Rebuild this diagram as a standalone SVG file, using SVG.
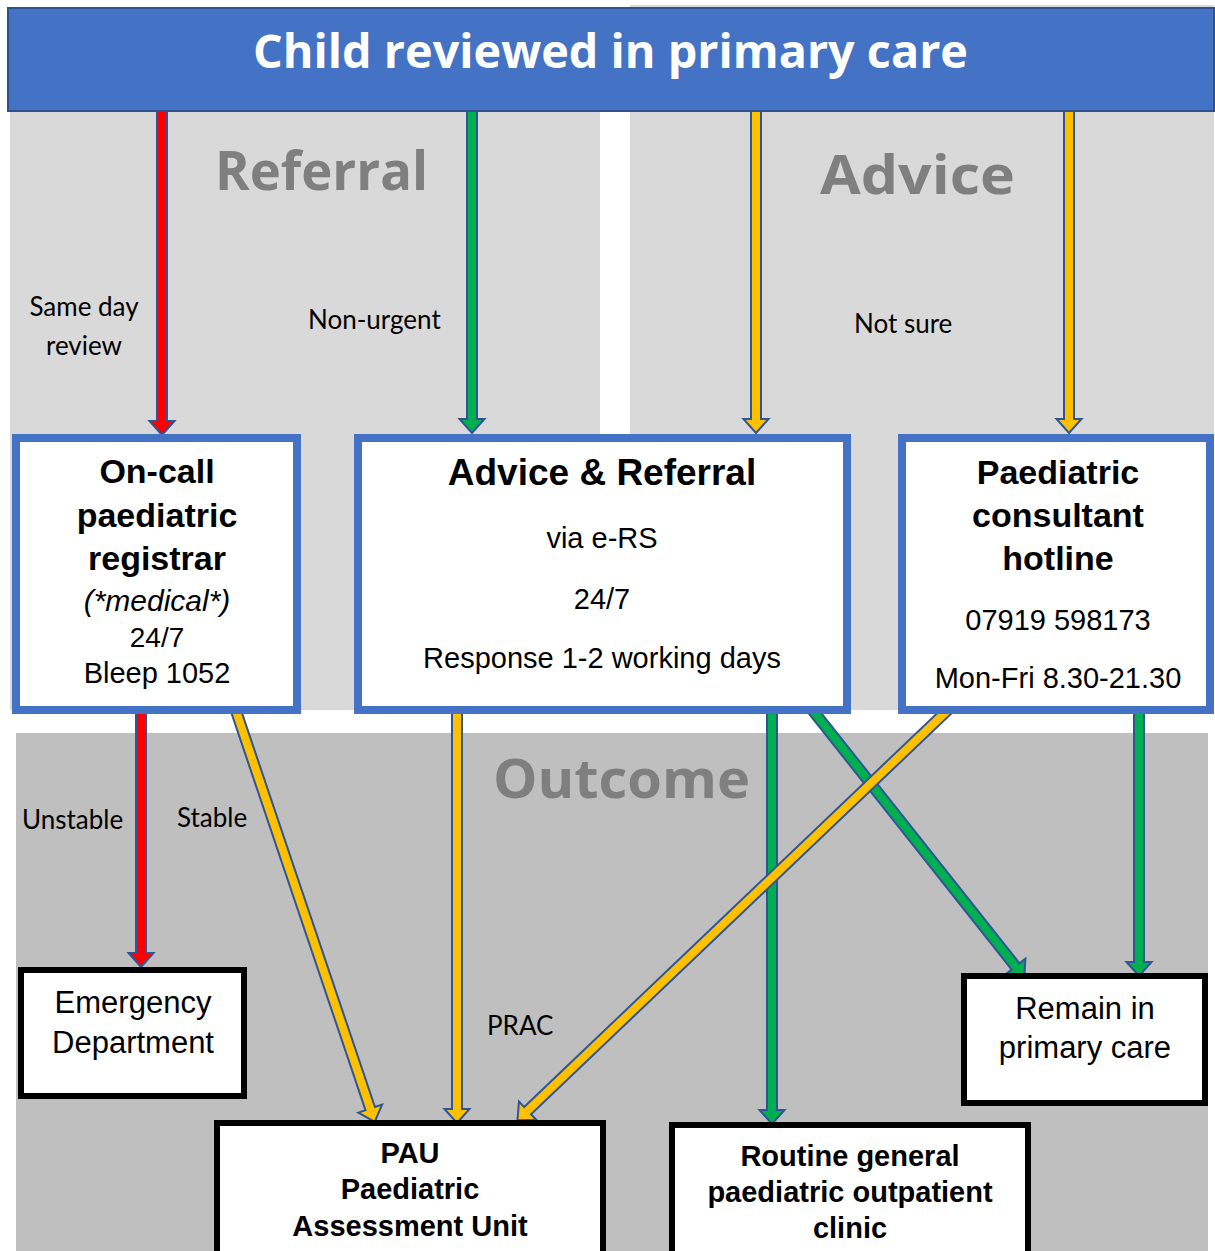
<svg xmlns="http://www.w3.org/2000/svg" width="1215" height="1251" viewBox="0 0 1215 1251">
<style>
.panel{stroke:none}
.bluebox{fill:#fff;stroke:#4472C4;stroke-width:8}
.blackbox{fill:#fff;stroke:#000;stroke-width:6}
.arr{stroke:#2F5597;stroke-width:2;stroke-linejoin:miter}
.red{fill:#FF0000}.grn{fill:#00B050}.yel{fill:#FFC000}
.t{font-family:"Liberation Sans",Arial,sans-serif;fill:#000;text-anchor:middle}
.b{font-weight:bold}
.lbl{font-family:Lato,"Open Sans",sans-serif;font-size:26px;fill:#000}
.wm{font-family:"Open Sans","DejaVu Sans",sans-serif;font-weight:bold;fill:#7F7F7F;font-size:54px}
</style>
<rect width="1215" height="1251" fill="#fff"/>
<g id="panels">
<rect class="panel" x="10" y="100" width="590" height="610" fill="#D9D9D9"/>
<rect class="panel" x="630" y="5" width="584" height="705" fill="#D9D9D9"/>
<rect class="panel" x="16" y="733" width="1192" height="518" fill="#BFBFBF"/>
<text class="wm" x="215" y="190" textLength="213" lengthAdjust="spacingAndGlyphs">Referral</text>
<text class="wm" x="820" y="194" textLength="195" lengthAdjust="spacingAndGlyphs">Advice</text>
<text class="wm" x="493" y="798" textLength="257" lengthAdjust="spacingAndGlyphs">Outcome</text>
</g>
<g id="connectors">
<path class="arr red" transform="translate(162,108) rotate(90)" d="M0,-5 L313,-5 L313,-12.5 L327,0 L313,12.5 L313,5 L0,5 Z"/>
<path class="arr grn" transform="translate(472,108) rotate(90)" d="M0,-5 L311,-5 L311,-12.5 L325,0 L311,12.5 L311,5 L0,5 Z"/>
<path class="arr yel" transform="translate(756,108) rotate(90)" d="M0,-5 L311,-5 L311,-12.5 L325,0 L311,12.5 L311,5 L0,5 Z"/>
<path class="arr yel" transform="translate(1069,108) rotate(90)" d="M0,-5 L311,-5 L311,-12.5 L325,0 L311,12.5 L311,5 L0,5 Z"/>
<path class="arr red" transform="translate(141,705) rotate(90)" d="M0,-5 L248,-5 L248,-12.5 L262,0 L248,12.5 L248,5 L0,5 Z"/>
<path class="arr yel" transform="translate(234,705) rotate(71.35)" d="M0,-5 L426,-5 L426,-12.5 L440,0 L426,12.5 L426,5 L0,5 Z"/>
<path class="arr yel" transform="translate(457,705) rotate(90)" d="M0,-5 L404,-5 L404,-12.5 L418,0 L404,12.5 L404,5 L0,5 Z"/>
<path class="arr grn" transform="translate(772,705) rotate(90)" d="M0,-5 L405,-5 L405,-12.5 L419,0 L405,12.5 L405,5 L0,5 Z"/>
<path class="arr grn" transform="translate(810,707) rotate(51.6)" d="M0,-5 L331,-5 L331,-12.5 L345,0 L331,12.5 L331,5 L0,5 Z"/>
<path class="arr yel" transform="translate(951,707) rotate(136.37)" d="M0,-5 L585,-5 L585,-12.5 L599,0 L585,12.5 L585,5 L0,5 Z"/>
<path class="arr grn" transform="translate(1139,705) rotate(90)" d="M0,-5 L257,-5 L257,-12.5 L271,0 L257,12.5 L257,5 L0,5 Z"/>
</g>
<g id="banner">
<rect x="8" y="8" width="1206" height="103" fill="#4472C4" stroke="#2F528F" stroke-width="2"/>
<text x="253" y="68" font-family="'Open Sans','DejaVu Sans',sans-serif" font-weight="bold" font-size="46" fill="#fff" textLength="715" lengthAdjust="spacingAndGlyphs">Child reviewed in primary care</text>
</g>
<g id="oncall">
<rect class="bluebox" x="16" y="438" width="281" height="272"/>
<text class="t b" font-size="34" x="157" y="483">On-call</text>
<text class="t b" font-size="34" x="157" y="527">paediatric</text>
<text class="t b" font-size="34" x="157" y="570">registrar</text>
<text class="t" font-size="30" font-style="italic" x="157" y="611">(*medical*)</text>
<text class="t" font-size="28" x="157" y="647">24/7</text>
<text class="t" font-size="29" x="157" y="683">Bleep 1052</text>
</g>
<g id="advice-referral">
<rect class="bluebox" x="358" y="438" width="489" height="272"/>
<text class="t b" font-size="37" x="602" y="485">Advice &amp; Referral</text>
<text class="t" font-size="29" x="602" y="548">via e-RS</text>
<text class="t" font-size="29" x="602" y="609">24/7</text>
<text class="t" font-size="29" x="602" y="668">Response 1-2 working days</text>
</g>
<g id="hotline">
<rect class="bluebox" x="902" y="438" width="308" height="272"/>
<text class="t b" font-size="34" x="1058" y="484">Paediatric</text>
<text class="t b" font-size="34" x="1058" y="527">consultant</text>
<text class="t b" font-size="34" x="1058" y="570">hotline</text>
<text class="t" font-size="29" x="1058" y="630">07919 598173</text>
<text class="t" font-size="29" x="1058" y="688">Mon-Fri 8.30-21.30</text>
</g>
<g id="ed">
<rect class="blackbox" x="21" y="970" width="223" height="126"/>
<text class="t" font-size="31" x="133" y="1013">Emergency</text>
<text class="t" font-size="31" x="133" y="1053">Department</text>
</g>
<g id="remain">
<rect class="blackbox" x="964" y="976" width="241" height="127"/>
<text class="t" font-size="31" x="1085" y="1019">Remain in</text>
<text class="t" font-size="31" x="1085" y="1058">primary care</text>
</g>
<g id="pau">
<rect class="blackbox" x="217" y="1123" width="386" height="135"/>
<text class="t b" font-size="29" x="410" y="1163">PAU</text>
<text class="t b" font-size="29" x="410" y="1199">Paediatric</text>
<text class="t b" font-size="29" x="410" y="1236">Assessment Unit</text>
</g>
<g id="routine">
<rect class="blackbox" x="672" y="1125" width="356" height="135"/>
<text class="t b" font-size="29" x="850" y="1166">Routine general</text>
<text class="t b" font-size="29" x="850" y="1202">paediatric outpatient</text>
<text class="t b" font-size="29" x="850" y="1238">clinic</text>
</g>
<g id="labels">
<text class="lbl" x="84" y="316" text-anchor="middle">Same day</text>
<text class="lbl" x="84" y="355" text-anchor="middle">review</text>
<text class="lbl" x="308" y="329">Non-urgent</text>
<text class="lbl" x="854" y="333">Not sure</text>
<text class="lbl" x="22" y="829">Unstable</text>
<text class="lbl" x="177" y="827">Stable</text>
<text class="lbl" x="487" y="1035">PRAC</text>
</g>
</svg>
